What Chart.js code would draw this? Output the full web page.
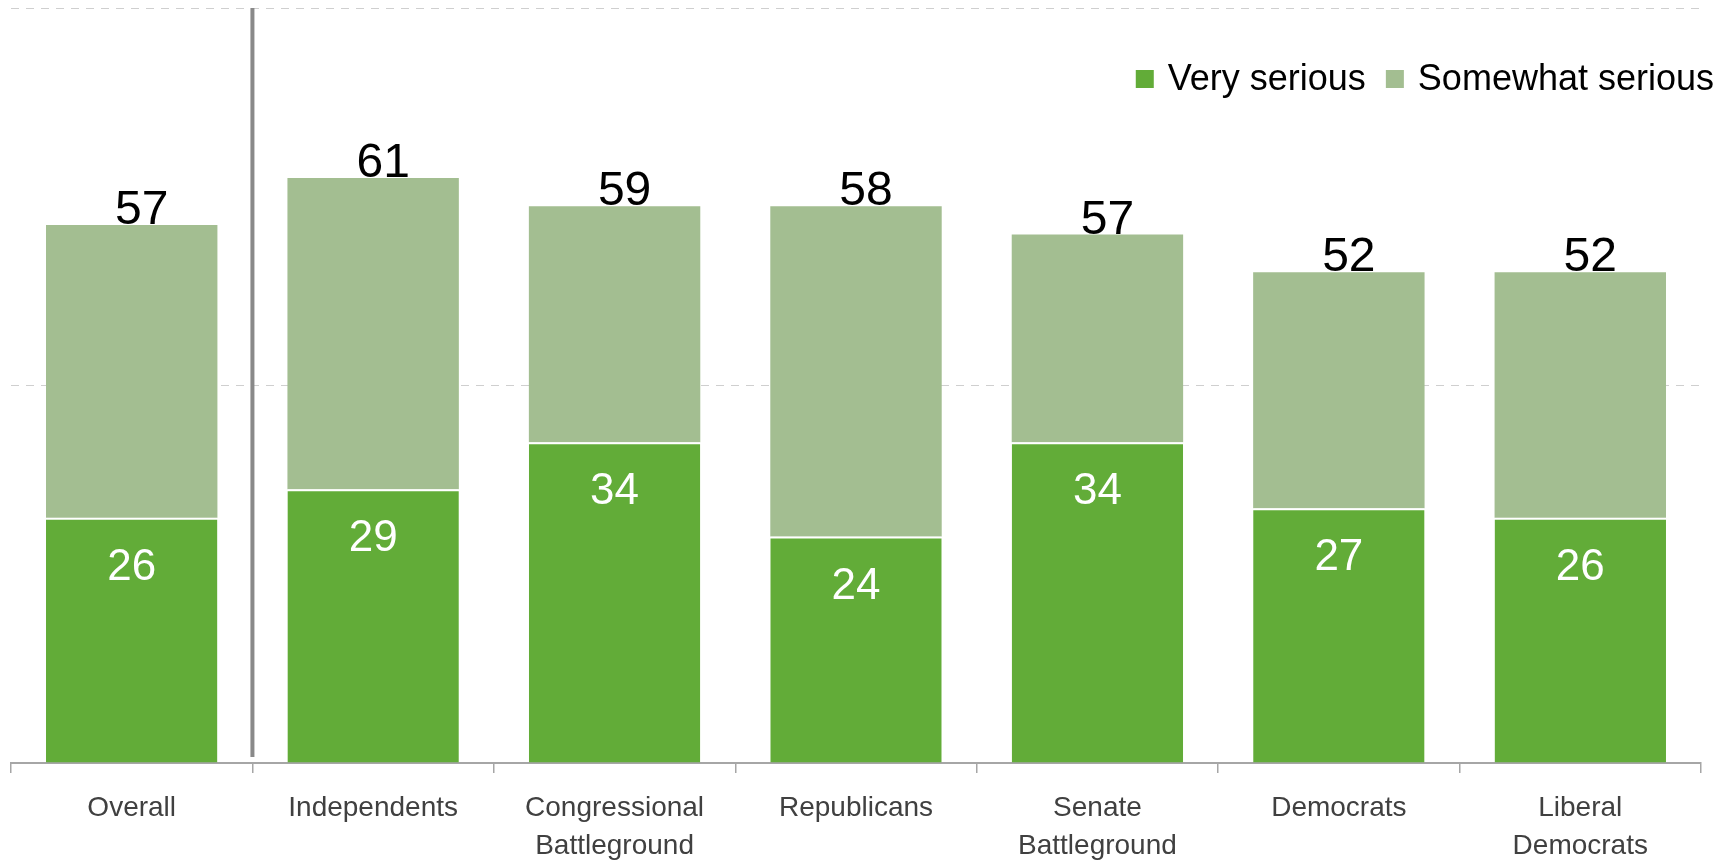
<!DOCTYPE html>
<html>
<head>
<meta charset="utf-8">
<script src="https://cdn.jsdelivr.net/npm/chart.js@4.4.0/dist/chart.umd.min.js"></script>
<style>
    html, body { margin: 0; padding: 0; background: #fff; }
    #wrap { width: 1733px; height: 861px; }
</style>
</head>
<body>
<div id="wrap"><canvas id="seriousChart"></canvas></div>
<script>
'use strict';

const categories = ['Overall', 'Independents', ['Congressional', 'Battleground'], 'Republicans',
    ['Senate', 'Battleground'], 'Democrats', ['Liberal', 'Democrats']];
const verySerious = [26, 29, 34, 24, 34, 27, 26];
const somewhatSerious = [31, 33, 25, 35, 22, 25, 26];
const totalLabels = [57, 61, 59, 58, 57, 52, 52];
const yTicks = [0, 40, 80];

const FONT = '"Liberation Sans", Arial, sans-serif';

// value labels: white inside the dark segment, black totals above the stack
const barLabels = {
    id: 'barLabels',
    afterDatasetsDraw(chart) {
        const ctx = chart.ctx;
        const veryMeta = chart.getDatasetMeta(0);
        const someMeta = chart.getDatasetMeta(1);
        ctx.save();
        ctx.textAlign = 'center';

        ctx.font = '44px ' + FONT;
        ctx.fillStyle = '#ffffff';
        ctx.textBaseline = 'middle';
        veryMeta.data.forEach(function(bar, i) {
            ctx.fillText(String(verySerious[i]), bar.x, bar.y + 50);
        });

        ctx.font = '48px ' + FONT;
        ctx.fillStyle = '#000000';
        ctx.textBaseline = 'alphabetic';
        someMeta.data.forEach(function(bar, i) {
            ctx.fillText(String(totalLabels[i]), bar.x + 10, bar.y - 1);
        });
        ctx.restore();
    }
};

// grey divider between "Overall" and the subgroups
const divider = {
    id: 'divider',
    afterDatasetsDraw(chart) {
        const x = chart.scales.x;
        const area = chart.chartArea;
        const px = (x.getPixelForValue(0) + x.getPixelForValue(1)) / 2;
        const ctx = chart.ctx;
        ctx.save();
        ctx.strokeStyle = '#898989';
        ctx.lineWidth = 4;
        ctx.beginPath();
        ctx.moveTo(px, area.top);
        ctx.lineTo(px, area.bottom - 6);
        ctx.stroke();
        ctx.restore();
    }
};

// legend sits inside the plot, top right
const insideLegend = {
    id: 'insideLegend',
    afterDraw(chart) {
        const ctx = chart.ctx;
        const area = chart.chartArea;
        const box = 18, gap = 14, spacing = 20;
        ctx.save();
        ctx.font = '36px ' + FONT;
        const items = chart.data.datasets.map(function(ds) {
            return { text: ds.label, color: ds.backgroundColor, w: ctx.measureText(ds.label).width };
        });
        let total = 0;
        items.forEach(function(it, i) {
            total += box + gap + it.w + (i > 0 ? spacing : 0);
        });
        let x = area.right + 13 - total;
        const cy = area.top + 71;
        ctx.textBaseline = 'middle';
        ctx.textAlign = 'left';
        items.forEach(function(it) {
            ctx.fillStyle = it.color;
            ctx.fillRect(x, cy - box / 2, box, box);
            ctx.fillStyle = '#000000';
            ctx.fillText(it.text, x + box + gap, cy + 1);
            x += box + gap + it.w + spacing;
        });
        ctx.restore();
    }
};

new Chart(document.getElementById('seriousChart'), {
    type: 'bar',
    data: {
        labels: categories,
        datasets: [
            {
                label: 'Very serious',
                data: verySerious,
                backgroundColor: '#62ac38',
                borderColor: '#ffffff',
                borderWidth: { top: 2, left: 0, right: 0, bottom: 0 },
                borderSkipped: false
            },
            {
                label: 'Somewhat serious',
                data: somewhatSerious,
                backgroundColor: '#a3be91',
                borderWidth: 0
            }
        ]
    },
    options: {
        responsive: true,
        maintainAspectRatio: false,
        devicePixelRatio: 1,
        animation: false,
        layout: {
            padding: { left: 11, right: 32, top: 8, bottom: 0 }
        },
        plugins: {
            legend: { display: false },
            tooltip: { enabled: false }
        },
        datasets: {
            bar: { categoryPercentage: 1, barPercentage: 0.71 }
        },
        scales: {
            x: {
                stacked: true,
                afterFit: function(scale) { scale.height = 98; },
                border: { display: true, color: '#a6a6a6', width: 2 },
                grid: {
                    offset: true,
                    drawOnChartArea: false,
                    drawTicks: true,
                    tickLength: 10,
                    color: '#a6a6a6',
                    lineWidth: 1.5
                },
                ticks: {
                    color: '#404040',
                    padding: 16,
                    maxRotation: 0,
                    autoSkip: false,
                    font: { family: FONT, size: 28, lineHeight: 1.36 }
                }
            },
            y: {
                stacked: true,
                min: 0,
                max: 80,
                afterFit: function(scale) { scale.width = 0; },
                afterBuildTicks: function(scale) {
                    scale.ticks = yTicks.map(function(v) { return { value: v }; });
                },
                grid: {
                    drawTicks: false,
                    color: function(c) { return c.tick.value === 0 ? 'rgba(0,0,0,0)' : '#cfcfcf'; },
                    lineWidth: 1
                },
                border: { display: false, dash: [8, 7] },
                ticks: { display: false }
            }
        }
    },
    plugins: [barLabels, divider, insideLegend]
});
</script>
</body>
</html>
